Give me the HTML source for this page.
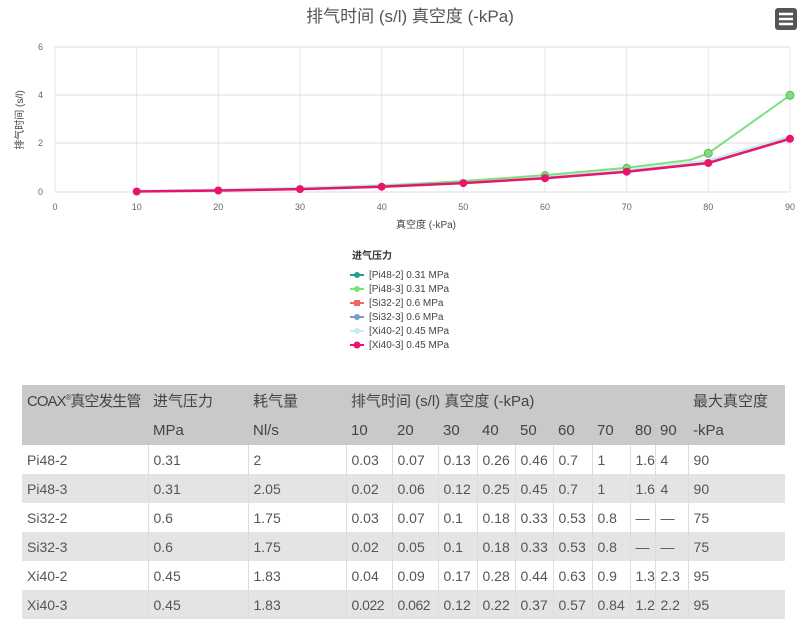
<!DOCTYPE html>
<html><head><meta charset="utf-8"><style>
body{margin:0;width:800px;height:625px;background:#fff;overflow:hidden;font-family:"Liberation Sans","Noto Sans CJK SC",sans-serif;position:relative}
table{position:absolute;left:22px;top:385px;width:763px;border-collapse:collapse;table-layout:fixed;font-size:14px;color:#555}
td{padding:0 0 0 5px;height:29px;border-left:1px solid #ddd;white-space:nowrap;overflow:hidden}
tr.h td{background:#c9c9c9;border:none;color:#444;height:30px;font-size:15px}
tr.g td{background:#e4e4e4}
tr td:first-child{border-left:none}
sup{font-size:8px}
</style></head><body>
<svg width="800" height="380" style="position:absolute;left:0;top:0" font-family="Liberation Sans, Noto Sans CJK SC, sans-serif">
<text x="410" y="22" text-anchor="middle" font-size="17" fill="#555">排气时间 (s/l) 真空度 (-kPa)</text>
<rect x="775" y="8" width="22" height="22" rx="3" fill="#555"/>
<path d="M779 14h14M779 19h14M779 24h14" stroke="#fff" stroke-width="2.5"/>
<g stroke="#e6e6e6" stroke-width="1">
<path d="M55 47V192M136.7 47V192M218.3 47V192M300 47V192M381.7 47V192M463.3 47V192M545 47V192M626.7 47V192M708.3 47V192M790 47V192"/>
<path d="M55 47H790M55 95H790M55 143H790M55 192H790" stroke="#ddd"/>
</g>
<g font-size="9" fill="#666">
<text x="38" y="50">6</text><text x="38" y="98">4</text><text x="38" y="146">2</text><text x="38" y="195">0</text>
<g text-anchor="middle"><text x="55" y="210">0</text><text x="136.7" y="210">10</text><text x="218.3" y="210">20</text><text x="300" y="210">30</text><text x="381.7" y="210">40</text><text x="463.3" y="210">50</text><text x="545" y="210">60</text><text x="626.7" y="210">70</text><text x="708.3" y="210">80</text><text x="790" y="210">90</text></g>
<text x="426" y="228" text-anchor="middle" font-size="10" fill="#444">真空度 (-kPa)</text>
<text transform="translate(23,120) rotate(-90)" text-anchor="middle" font-size="10" fill="#444">排气时间 (s/l)</text>
</g>
<polyline fill="none" stroke="#c5ecf3" stroke-width="2.5" points="136.7,191 218.3,189.8 300,187.9 381.7,185.2 463.3,181.4 545,176.8 626.7,170.2 708.3,160.6 790,136.4"/>
<polyline fill="none" stroke="#7de07a" stroke-width="2" points="136.7,191.5 218.3,190.5 300,189.1 381.7,186 463.3,181.1 545,175.1 626.7,167.8 690,160 708.3,153.3 790,95.3"/>
<g fill="#7de07a" stroke="#5cb85c"><circle cx="545" cy="175.1" r="3.5"/><circle cx="626.7" cy="167.8" r="3.5"/><circle cx="708.3" cy="153.3" r="4"/><circle cx="790" cy="95.3" r="4"/></g>
<polyline fill="none" stroke="#e8156d" stroke-width="2.5" points="136.7,191.5 218.3,190.5 300,189.1 381.7,186.7 463.3,183.1 545,178.2 626.7,171.7 708.3,163 790,138.8"/>
<g fill="#e8156d"><circle cx="136.7" cy="191.5" r="4"/><circle cx="218.3" cy="190.5" r="4"/><circle cx="300" cy="189.1" r="4"/><circle cx="381.7" cy="186.7" r="4"/><circle cx="463.3" cy="183.1" r="4"/><circle cx="545" cy="178.2" r="4"/><circle cx="626.7" cy="171.7" r="4"/><circle cx="708.3" cy="163" r="4"/><circle cx="790" cy="138.8" r="4"/></g>
<text x="352" y="259" font-size="10" font-weight="bold" fill="#333">进气压力</text>
<g font-size="10" fill="#444">
<path d="M350 275h14" stroke="#2a9d8f" stroke-width="2"/><circle cx="357" cy="275" r="3" fill="#2a9d8f"/><text x="369" y="278">[Pi48-2] 0.31 MPa</text>
<path d="M350 289h14" stroke="#7de07a" stroke-width="2"/><circle cx="357" cy="289" r="3" fill="#7de07a"/><text x="369" y="292">[Pi48-3] 0.31 MPa</text>
<path d="M350 303h14" stroke="#ee6666" stroke-width="2"/><rect x="354" y="300" width="6" height="6" fill="#ee6666"/><text x="369" y="306">[Si32-2] 0.6 MPa</text>
<path d="M350 317h14" stroke="#7799cc" stroke-width="2"/><circle cx="357" cy="317" r="3" fill="#7799cc"/><text x="369" y="320">[Si32-3] 0.6 MPa</text>
<path d="M350 331h14" stroke="#c5ecf3" stroke-width="2"/><circle cx="357" cy="331" r="3" fill="#c5ecf3"/><text x="369" y="334">[Xi40-2] 0.45 MPa</text>
<path d="M350 345h14" stroke="#e8156d" stroke-width="2"/><circle cx="357" cy="345" r="3.5" fill="#e8156d"/><text x="369" y="348">[Xi40-3] 0.45 MPa</text>
</g>
</svg>
<table>
<colgroup><col style="width:126px"><col style="width:100px"><col style="width:98px"><col style="width:46px"><col style="width:46px"><col style="width:39px"><col style="width:38px"><col style="width:38px"><col style="width:39px"><col style="width:38px"><col style="width:25px"><col style="width:33px"><col style="width:97px"></colgroup>
<tr class="h"><td style="letter-spacing:-1px">COAX<sup>®</sup>真空发生管</td><td>进气压力</td><td>耗气量</td><td colspan="9">排气时间 (s/l) 真空度 (-kPa)</td><td>最大真空度</td></tr>
<tr class="h"><td></td><td>MPa</td><td>Nl/s</td><td>10</td><td>20</td><td>30</td><td>40</td><td>50</td><td>60</td><td>70</td><td>80</td><td>90</td><td>-kPa</td></tr>
<tr><td>Pi48-2</td><td>0.31</td><td>2</td><td>0.03</td><td>0.07</td><td>0.13</td><td>0.26</td><td>0.46</td><td>0.7</td><td>1</td><td>1.6</td><td>4</td><td>90</td></tr>
<tr class="g"><td>Pi48-3</td><td>0.31</td><td>2.05</td><td>0.02</td><td>0.06</td><td>0.12</td><td>0.25</td><td>0.45</td><td>0.7</td><td>1</td><td>1.6</td><td>4</td><td>90</td></tr>
<tr><td>Si32-2</td><td>0.6</td><td>1.75</td><td>0.03</td><td>0.07</td><td>0.1</td><td>0.18</td><td>0.33</td><td>0.53</td><td>0.8</td><td>—</td><td>—</td><td>75</td></tr>
<tr class="g"><td>Si32-3</td><td>0.6</td><td>1.75</td><td>0.02</td><td>0.05</td><td>0.1</td><td>0.18</td><td>0.33</td><td>0.53</td><td>0.8</td><td>—</td><td>—</td><td>75</td></tr>
<tr><td>Xi40-2</td><td>0.45</td><td>1.83</td><td>0.04</td><td>0.09</td><td>0.17</td><td>0.28</td><td>0.44</td><td>0.63</td><td>0.9</td><td>1.3</td><td>2.3</td><td>95</td></tr>
<tr class="g"><td>Xi40-3</td><td>0.45</td><td>1.83</td><td style="letter-spacing:-0.5px">0.022</td><td style="letter-spacing:-0.5px">0.062</td><td>0.12</td><td>0.22</td><td>0.37</td><td>0.57</td><td>0.84</td><td>1.2</td><td>2.2</td><td>95</td></tr>
</table>
</body></html>
